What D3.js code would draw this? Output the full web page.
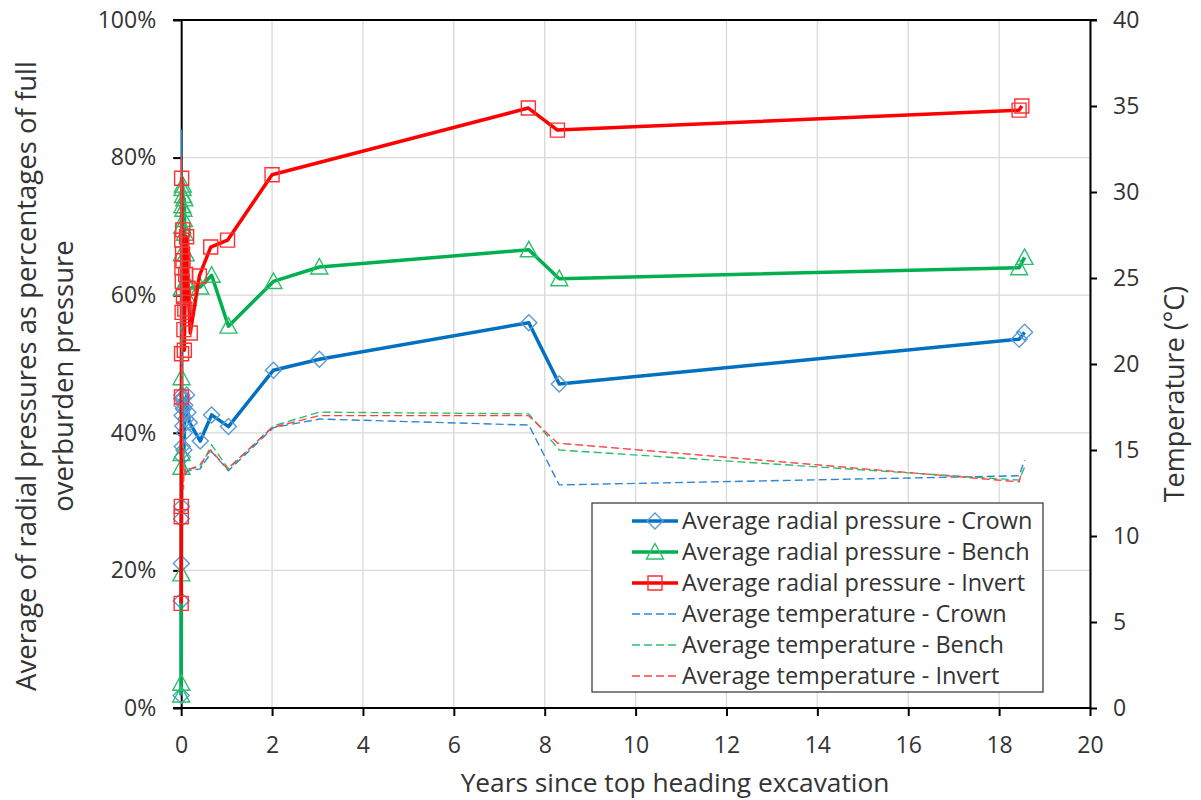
<!DOCTYPE html>
<html>
<head>
<meta charset="utf-8">
<script src="https://cdn.jsdelivr.net/npm/d3@7"></script>
<style>
  body { margin: 0; background: #fff; }
  text { font-family: "Open Sans", Lato, sans-serif; }
</style>
</head>
<body>
<div id="chart"></div>
<script>
// measurement times (years since top heading excavation)
const crownYears = [0, 0.002, 0.004, 0.006, 0.008, 0.010, 0.013, 0.016, 0.020, 0.025, 0.030, 0.035, 0.040, 0.050, 0.060, 0.070, 0.080, 0.100, 0.120, 0.150, 0.180, 0.42, 0.67, 1.04, 2.03, 3.04, 7.65, 8.32, 18.44, 18.56];
const benchYears = crownYears;
const invertYears = [0, 0.002, 0.004, 0.006, 0.008, 0.010, 0.013, 0.016, 0.020, 0.025, 0.030, 0.035, 0.040, 0.050, 0.060, 0.070, 0.080, 0.100, 0.120, 0.150, 0.200, 0.40, 0.65, 1.02, 2.00, 3.04, 7.64, 8.28, 18.44, 18.50];

// average radial pressure, % of full overburden pressure
const crownPressure = [1.8, 15.6, 21.0, 27.5, 29.3, 45.5, 45.0, 44.0, 42.5, 38.0, 36.5, 41.0, 45.0, 43.5, 37.5, 40.0, 44.0, 42.0, 45.5, 43.0, 41.5, 38.8, 42.6, 40.9, 49.1, 50.7, 56.0, 47.1, 53.6, 54.6];
const benchPressure = [1.9, 3.6, 19.5, 35.0, 37.0, 48.0, 61.0, 66.0, 70.0, 73.0, 75.5, 76.0, 74.5, 72.5, 71.0, 74.0, 69.0, 66.0, 62.0, 59.5, 61.0, 61.2, 62.9, 55.5, 62.0, 64.1, 66.6, 62.4, 64.0, 65.5];
const invertPressure = [15.2, 27.8, 29.3, 45.2, 51.5, 77.0, 68.0, 64.0, 57.5, 62.0, 66.0, 69.5, 65.0, 59.8, 55.0, 52.0, 58.0, 63.0, 68.5, 61.0, 54.5, 62.8, 67.0, 68.0, 77.5, null, 87.2, 84.0, 86.9, 87.5];

// average temperature, °C (early hydration peak near day zero)
const crownTemp = [22.0, 30.0, 33.6, 31.0, 28.0, 25.0, 23.0, 21.0, 19.5, 18.0, 17.0, 16.2, 15.6, 15.0, 14.6, 14.3, 14.0, 13.8, 13.7, 13.8, 13.8, 13.9, 14.9, 13.8, 16.3, 16.8, 16.45, 12.97, 13.5, 14.4];
const benchTemp = [21.0, 28.0, 30.5, 29.0, 26.5, 24.0, 22.0, 20.5, 19.0, 17.8, 16.8, 16.0, 15.4, 14.8, 14.5, 14.3, 14.0, 13.8, 13.9, 14.0, 13.9, 14.0, 15.3, 13.9, 16.4, 17.2, 17.1, 15.0, 13.25, 14.0];
const invertTemp = [22.5, 29.5, 32.0, 30.5, 27.5, 24.5, 22.5, 20.8, 19.2, 17.9, 16.9, 16.0, 15.3, 12.7, 13.6, 13.9, 13.7, 13.6, 13.8, 13.9, 13.9, 14.1, 15.0, 13.9, 16.3, 17.0, 17.0, 15.4, 13.15, 13.75];

const xTicks = [0, 2, 4, 6, 8, 10, 12, 14, 16, 18, 20];
const pctTicks = [0, 20, 40, 60, 80, 100];
const tempTicks = [0, 5, 10, 15, 20, 25, 30, 35, 40];

const legendLabels = [
    "Average radial pressure - Crown",
    "Average radial pressure - Bench",
    "Average radial pressure - Invert",
    "Average temperature - Crown",
    "Average temperature - Bench",
    "Average temperature - Invert"
];

const width = 1201, height = 800;
const plotLeft = 173, plotRight = 1090, plotTop = 20, plotBottom = 708;
const textColor = "#333333";
const gridColor = "#d9d9d9";

const svg = d3.select("#chart").append("svg")
    .attr("width", width)
    .attr("height", height);

const x = d3.scaleLinear().domain([-0.18, 20]).range([plotLeft, plotRight]);
const yP = d3.scaleLinear().domain([0, 100]).range([plotBottom, plotTop]);
const yT = d3.scaleLinear().domain([0, 40]).range([plotBottom, plotTop]);

// gridlines
svg.append("g").selectAll("line")
    .data(xTicks.filter(d => d > 0))
    .enter().append("line")
    .attr("x1", d => x(d)).attr("x2", d => x(d))
    .attr("y1", plotTop).attr("y2", plotBottom)
    .attr("stroke", gridColor).attr("stroke-width", 1.3);

svg.append("g").selectAll("line")
    .data(pctTicks.filter(d => d > 0))
    .enter().append("line")
    .attr("x1", plotLeft).attr("x2", plotRight)
    .attr("y1", d => yP(d)).attr("y2", d => yP(d))
    .attr("stroke", gridColor).attr("stroke-width", 1.3);

// axes
function styleAxis(g, size) {
    g.selectAll(".domain").attr("stroke", "#000").attr("stroke-width", 2);
    g.selectAll(".tick line").attr("stroke", "#000").attr("stroke-width", 2);
    g.selectAll(".tick text").attr("fill", textColor).attr("font-size", size + "px");
}

const xAxis = svg.append("g")
    .attr("transform", `translate(0,${plotBottom})`)
    .call(d3.axisBottom(x).tickValues(xTicks).tickFormat(d3.format("d"))
        .tickSizeInner(8).tickSizeOuter(0).tickPadding(21));
xAxis.select(".domain").attr("d", `M${plotLeft},0H${plotRight}`);
styleAxis(xAxis, 23);

const yAxis = svg.append("g")
    .attr("transform", `translate(${x(0)},0)`)
    .call(d3.axisLeft(yP).tickValues(pctTicks).tickFormat(d => d + "%")
        .tickSizeInner(8).tickSizeOuter(0).tickPadding(17));
styleAxis(yAxis, 23);

const y2Axis = svg.append("g")
    .attr("transform", `translate(${plotRight},0)`)
    .call(d3.axisRight(yT).tickValues(tempTicks)
        .tickSizeInner(7).tickSizeOuter(0).tickPadding(16));
styleAxis(y2Axis, 23);

svg.append("line")
    .attr("x1", plotLeft).attr("x2", plotRight + 7)
    .attr("y1", plotTop).attr("y2", plotTop)
    .attr("stroke", "#000").attr("stroke-width", 2);

// axis titles
svg.append("text")
    .attr("x", 675).attr("y", 792)
    .attr("text-anchor", "middle")
    .attr("font-size", "26.3px").attr("fill", textColor)
    .text("Years since top heading excavation");

const leftTitle = svg.append("text")
    .attr("transform", `translate(36,${(plotTop + plotBottom) / 2 + 12}) rotate(-90)`)
    .attr("text-anchor", "middle")
    .attr("font-size", "27.5px").attr("fill", textColor);
leftTitle.append("tspan").attr("x", 0).attr("y", 0)
    .text("Average of radial pressures as percentages of full");
leftTitle.append("tspan").attr("x", 0).attr("y", 37)
    .text("overburden pressure");

svg.append("text")
    .attr("transform", `translate(1184,${(plotTop + plotBottom) / 2 + 30}) rotate(-90)`)
    .attr("text-anchor", "middle")
    .attr("font-size", "27px").attr("fill", textColor)
    .text("Temperature (°C)");

// series
const series = [
    { years: crownYears, pressure: crownPressure, temp: crownTemp, line: "#0070C0", mark: "#5B9BD5", dash: "#2E86D6", shape: "diamond" },
    { years: benchYears, pressure: benchPressure, temp: benchTemp, line: "#00B050", mark: "#2DBE6C", dash: "#2DBE6C", shape: "triangle" },
    { years: invertYears, pressure: invertPressure, temp: invertTemp, line: "#FF0000", mark: "#FF3030", dash: "#FF4040", shape: "square" }
];

function markerPath(shape) {
    if (shape === "diamond") return "M0,-8L8,0L0,8L-8,0Z";
    if (shape === "triangle") return "M0,-8.5L8.5,7L-8.5,7Z";
    return "M-7,-7H7V7H-7Z";
}

const plot = svg.append("g");

series.forEach(s => {
    const pts = s.years.map((t, i) => ({ t: t, p: s.pressure[i] })).filter(d => d.p !== null);
    const line = d3.line().x(d => x(d.t)).y(d => yP(d.p));
    plot.append("path")
        .datum(pts)
        .attr("d", line)
        .attr("fill", "none")
        .attr("stroke", s.line)
        .attr("stroke-width", 3.5)
        .attr("stroke-linejoin", "round");
    plot.append("g").selectAll("path")
        .data(pts)
        .enter().append("path")
        .attr("transform", d => `translate(${x(d.t)},${yP(d.p)})`)
        .attr("d", markerPath(s.shape))
        .attr("fill", "none")
        .attr("stroke", s.mark)
        .attr("stroke-width", 1.4);
});

series.forEach(s => {
    const pts = s.years.map((t, i) => ({ t: t, v: s.temp[i] }));
    const line = d3.line().x(d => x(d.t)).y(d => yT(d.v));
    plot.append("path")
        .datum(pts)
        .attr("d", line)
        .attr("fill", "none")
        .attr("stroke", s.dash)
        .attr("stroke-width", 1.4)
        .attr("stroke-dasharray", "8,4");
});

// legend
const legend = svg.append("g").attr("transform", "translate(592,503)");
legend.append("rect")
    .attr("x", 0).attr("y", 0)
    .attr("width", 451).attr("height", 189)
    .attr("fill", "#fff")
    .attr("stroke", "#404040").attr("stroke-width", 1.3);

legendLabels.forEach((label, i) => {
    const s = series[i % 3];
    const cy = 18 + i * 31;
    const isTemp = i >= 3;
    legend.append("line")
        .attr("x1", 40).attr("x2", 86)
        .attr("y1", cy).attr("y2", cy)
        .attr("stroke", isTemp ? s.dash : s.line)
        .attr("stroke-width", isTemp ? 1.4 : 3.5)
        .attr("stroke-dasharray", isTemp ? "8,4" : null);
    if (!isTemp) {
        legend.append("path")
            .attr("transform", `translate(63,${cy})`)
            .attr("d", markerPath(s.shape))
            .attr("fill", "none")
            .attr("stroke", s.mark)
            .attr("stroke-width", 1.4);
    }
    legend.append("text")
        .attr("x", 90).attr("y", cy)
        .attr("dy", "0.36em")
        .attr("font-size", "23.5px")
        .attr("fill", textColor)
        .text(label);
});
</script>
</body>
</html>
